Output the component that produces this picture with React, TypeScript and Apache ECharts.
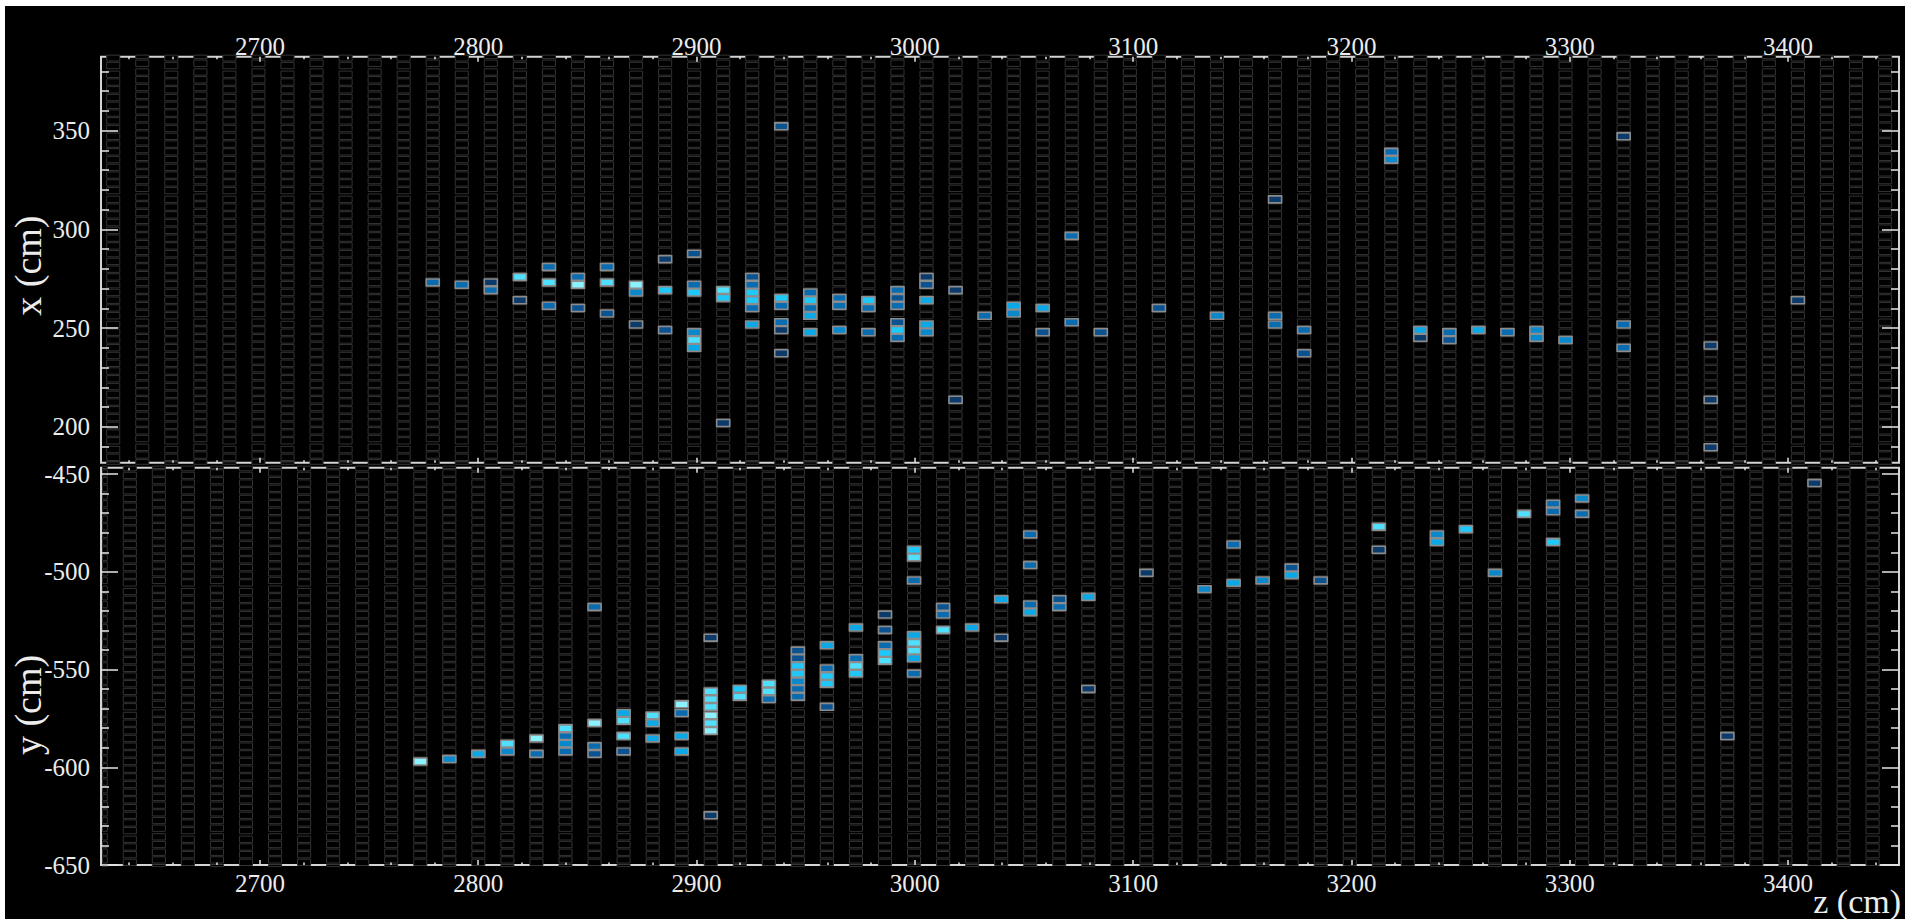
import React, { useEffect, useRef } from "react";
import * as echarts from "echarts";

// ---------- axis ranges (cm) ----------
const Z_RANGE = [2627.2, 3450.8];
const X_RANGE = [181.8, 387.5];
const Y_RANGE = [-650, -446.7];

// ---------- tick values ----------
const Z_MAJOR_TICKS = [2700, 2800, 2900, 3000, 3100, 3200, 3300, 3400];
const Z_MINOR_TICKS = [
  2640, 2660, 2680, 2720, 2740, 2760, 2780, 2820, 2840, 2860, 2880, 2920, 2940, 2960, 2980,
  3020, 3040, 3060, 3080, 3120, 3140, 3160, 3180, 3220, 3240, 3260, 3280, 3320, 3340, 3360,
  3380, 3420, 3440,
];
const X_MAJOR_TICKS = [200, 250, 300, 350];
const X_MINOR_TICKS = [190, 210, 220, 230, 240, 260, 270, 280, 290, 310, 320, 330, 340, 360, 370, 380];
const Y_MAJOR_TICKS = [-650, -600, -550, -500, -450];
const Y_MINOR_TICKS = [-640, -630, -620, -610, -590, -580, -570, -560, -540, -530, -520, -510, -490, -480, -470, -460];

// ---------- detector geometry (cm) ----------
const PLANE_PITCH = 13.305;
const X_PLANE_Z0 = 2632.8; // first x-view plane
const Y_PLANE_Z0 = 2640.4; // first y-view plane
const X_PLANE_RANGE = [0, 61];
const Y_PLANE_RANGE = [-1, 60];
const CELL_PITCH = 3.93;
const CELL_DEPTH = 6.0;
const CELLS_PER_EXTRUSION = 16;
const EXTRUSION_GAP = 0.5;
const X_EXTRUSION_EDGE = [254.05, 255.2]; // even / odd planes
const Y_EXTRUSION_EDGE = [-571.25, -570.0];

// ---------- hits: [z (cm), transverse (cm), charge level 1..8] ----------
const X_VIEW_HITS = [
  [2779.2, 273.2, 3],
  [2792.5, 272.0, 3],
  [2805.8, 273.2, 1], [2805.8, 269.3, 3],
  [2819.1, 276.2, 7], [2819.1, 264.2, 1],
  [2832.4, 281.4, 3], [2832.4, 273.2, 7], [2832.4, 261.5, 3],
  [2845.7, 276.2, 3], [2845.7, 272.0, 8], [2845.7, 260.3, 2],
  [2859.0, 281.4, 3], [2859.0, 273.2, 7], [2859.0, 257.5, 2],
  [2872.3, 272.0, 8], [2872.3, 267.9, 4], [2872.3, 251.9, 1],
  [2885.6, 285.2, 1], [2885.6, 269.3, 6], [2885.6, 249.2, 2],
  [2898.9, 287.8, 2], [2898.9, 272.0, 3], [2898.9, 267.9, 6], [2898.9, 247.7, 4], [2898.9, 243.9, 7], [2898.9, 240.2, 5],
  [2912.2, 269.3, 7], [2912.2, 265.6, 6], [2912.2, 202.0, 1],
  [2925.5, 276.2, 2], [2925.5, 272.0, 3], [2925.5, 267.9, 6], [2925.5, 264.2, 6], [2925.5, 260.3, 3], [2925.5, 251.9, 5],
  [2938.8, 353.4, 2], [2938.8, 265.6, 6], [2938.8, 261.5, 3], [2938.8, 253.0, 3], [2938.8, 249.2, 1], [2938.8, 237.2, 1],
  [2952.2, 267.9, 3], [2952.2, 264.2, 6], [2952.2, 260.3, 3], [2952.2, 256.3, 5], [2952.2, 247.7, 5],
  [2965.5, 265.6, 3], [2965.5, 261.5, 3], [2965.5, 249.2, 4],
  [2978.7, 264.2, 6], [2978.7, 260.3, 3], [2978.7, 247.7, 3],
  [2992.0, 269.3, 3], [2992.0, 265.6, 2], [2992.0, 261.5, 3], [2992.0, 253.0, 2], [2992.0, 249.2, 6], [2992.0, 245.3, 3],
  [3005.3, 276.2, 1], [3005.3, 272.0, 2], [3005.3, 264.2, 5], [3005.3, 251.9, 5], [3005.3, 247.7, 4],
  [3018.6, 269.3, 1], [3018.6, 213.5, 1],
  [3032.0, 256.3, 3],
  [3045.3, 261.5, 5], [3045.3, 257.5, 4],
  [3058.6, 260.3, 5], [3058.6, 247.7, 2],
  [3071.9, 297.1, 3], [3071.9, 253.0, 3],
  [3085.2, 247.7, 2],
  [3111.8, 260.3, 2],
  [3138.4, 256.3, 4],
  [3165.0, 315.2, 1], [3165.0, 256.3, 3], [3165.0, 251.9, 3],
  [3178.3, 249.2, 3], [3178.3, 237.2, 2],
  [3218.2, 339.9, 3], [3218.2, 335.8, 4],
  [3231.5, 249.2, 5], [3231.5, 245.3, 1],
  [3244.8, 247.7, 3], [3244.8, 243.9, 2],
  [3258.1, 249.2, 5],
  [3271.4, 247.7, 3],
  [3284.7, 249.2, 4], [3284.7, 245.3, 4],
  [3298.0, 243.9, 4],
  [3324.7, 347.3, 1], [3324.7, 251.9, 3], [3324.7, 240.2, 3],
  [3364.6, 240.9, 1], [3364.6, 213.5, 1], [3364.6, 189.3, 1],
  [3404.5, 264.2, 1],
];

const Y_VIEW_HITS = [
  [2773.5, -597.7, 8],
  [2786.8, -596.3, 4],
  [2800.1, -593.6, 5],
  [2813.4, -588.3, 7], [2813.4, -592.3, 4],
  [2826.7, -585.6, 8], [2826.7, -593.2, 3],
  [2840.0, -580.3, 7], [2840.0, -584.2, 3], [2840.0, -588.3, 4], [2840.0, -592.3, 3],
  [2853.3, -518.1, 3], [2853.3, -577.6, 8], [2853.3, -589.5, 3], [2853.3, -593.2, 2],
  [2866.6, -572.4, 5], [2866.6, -576.5, 7], [2866.6, -584.2, 7], [2866.6, -592.3, 2],
  [2879.9, -573.7, 7], [2879.9, -577.6, 5], [2879.9, -585.6, 5],
  [2893.1, -567.8, 8], [2893.1, -572.4, 3], [2893.1, -584.2, 5], [2893.1, -592.3, 5],
  [2906.5, -533.6, 1], [2906.5, -561.4, 7], [2906.5, -565.1, 7], [2906.5, -569.1, 7], [2906.5, -573.7, 8], [2906.5, -577.6, 7], [2906.5, -581.5, 8], [2906.5, -625.0, 1],
  [2919.8, -559.9, 6], [2919.8, -563.7, 7],
  [2933.1, -557.2, 7], [2933.1, -561.4, 7], [2933.1, -565.1, 3],
  [2946.4, -540.3, 2], [2946.4, -544.3, 2], [2946.4, -547.9, 6], [2946.4, -552.2, 6], [2946.4, -555.8, 4], [2946.4, -559.9, 3], [2946.4, -563.7, 3],
  [2959.7, -537.1, 5], [2959.7, -549.4, 3], [2959.7, -553.2, 6], [2959.7, -557.2, 6], [2959.7, -569.1, 2],
  [2973.0, -528.1, 5], [2973.0, -544.0, 3], [2973.0, -547.9, 7], [2973.0, -552.2, 6],
  [2986.3, -522.1, 1], [2986.3, -529.8, 2], [2986.3, -538.0, 3], [2986.3, -541.7, 6], [2986.3, -545.7, 7],
  [2999.6, -488.9, 6], [2999.6, -492.8, 7], [2999.6, -504.8, 3], [2999.6, -532.7, 5], [2999.6, -536.6, 7], [2999.6, -540.3, 7], [2999.6, -544.3, 5], [2999.6, -552.3, 3],
  [3012.9, -518.2, 2], [3012.9, -522.1, 3], [3012.9, -529.7, 7],
  [3026.2, -528.6, 5],
  [3039.6, -514.1, 5], [3039.6, -533.9, 1],
  [3052.9, -480.6, 3], [3052.9, -496.4, 3], [3052.9, -516.7, 3], [3052.9, -520.8, 5],
  [3066.2, -514.1, 2], [3066.2, -517.9, 3],
  [3079.5, -513.1, 5], [3079.5, -559.9, 1],
  [3106.1, -500.3, 1],
  [3132.7, -508.5, 4],
  [3146.0, -485.8, 3], [3146.0, -505.4, 5],
  [3159.3, -504.0, 4],
  [3172.6, -497.6, 2], [3172.6, -501.8, 5],
  [3185.9, -504.0, 2],
  [3212.5, -476.6, 7], [3212.5, -488.9, 1],
  [3239.1, -480.7, 4], [3239.1, -484.7, 5],
  [3252.4, -478.2, 6],
  [3265.7, -500.2, 4],
  [3279.0, -469.8, 7],
  [3292.3, -465.0, 3], [3292.3, -469.3, 3], [3292.3, -484.7, 6],
  [3305.7, -462.2, 4], [3305.7, -470.2, 3],
  [3372.2, -584.0, 1],
  [3412.1, -454.1, 1],
];

const CHARGE_COLORS = ["#0b3a6b", "#0b5290", "#0a6cb0", "#0a88cc", "#0aa8e6", "#1ec8fa", "#4fe0ff", "#8af2ff"];

// ---------- styling ----------
const FONT = "'Liberation Serif', 'Times New Roman', 'DejaVu Serif', serif";
const TEXT_COLOR = "#ececec";
const TICK_COLOR = "#e6e6e6";
const FRAME_COLOR = "#d4d4d4";
const CELL_STROKE = "#333333";
const HIT_STROKE = "#8c8c8c";

const PERIOD = CELLS_PER_EXTRUSION * CELL_PITCH + EXTRUSION_GAP;
const mod2 = (k: number) => ((k % 2) + 2) % 2;

function buildCells(z0: number, kRange: number[], edges: number[], vRange: number[]) {
  const out: number[][] = [];
  for (let k = kRange[0]; k <= kRange[1]; k++) {
    const z = z0 + k * PLANE_PITCH;
    const edge = edges[mod2(k)];
    const m0 = Math.floor((vRange[0] - edge) / PERIOD) - 1;
    const m1 = Math.ceil((vRange[1] - edge) / PERIOD) + 1;
    for (let m = m0; m <= m1; m++) {
      const base = edge + m * PERIOD + EXTRUSION_GAP / 2;
      for (let i = 0; i < CELLS_PER_EXTRUSION; i++) {
        const c = base + CELL_PITCH * (i + 0.5);
        if (c + CELL_PITCH / 2 < vRange[0] - 2 || c - CELL_PITCH / 2 > vRange[1] + 2) continue;
        out.push([z, c, 0]);
      }
    }
  }
  return out;
}

function snapHits(hits: number[][], z0: number, edges: number[]) {
  return hits.map(([z, v, q]) => {
    const k = Math.round((z - z0) / PLANE_PITCH);
    const edge = edges[mod2(k)];
    const m = Math.floor((v - edge) / PERIOD);
    const base = edge + m * PERIOD + EXTRUSION_GAP / 2;
    let i = Math.floor((v - base) / CELL_PITCH);
    i = Math.max(0, Math.min(CELLS_PER_EXTRUSION - 1, i));
    return [z0 + k * PLANE_PITCH, base + CELL_PITCH * (i + 0.5), q];
  });
}

function makeRenderItem(isHit: boolean) {
  return (params: any, api: any) => {
    const c = api.coord([api.value(0), api.value(1)]);
    const s = api.size([CELL_DEPTH, CELL_PITCH]);
    const cs = params.coordSys;
    const inset = isHit ? 0.4 : 0.7;
    let x0 = c[0] - s[0] / 2;
    let x1 = c[0] + s[0] / 2;
    let y0 = c[1] - s[1] / 2 + inset;
    let y1 = c[1] + s[1] / 2 - inset;
    x0 = Math.max(x0, cs.x + 1.5);
    x1 = Math.min(x1, cs.x + cs.width - 1.5);
    y0 = Math.max(y0, cs.y - 1.6);
    y1 = Math.min(y1, cs.y + cs.height + 1.6);
    if (x1 <= x0 || y1 <= y0) return null;
    const level = api.value(2);
    return {
      type: "rect",
      shape: { x: x0, y: y0, width: x1 - x0, height: y1 - y0 },
      style: isHit
        ? { fill: CHARGE_COLORS[level - 1], stroke: HIT_STROKE, lineWidth: 1.6 }
        : { fill: "#000", stroke: CELL_STROKE, lineWidth: 1 },
    };
  };
}

function zAxis(grid: number, position: string, ticks: number[], len: number, labels: boolean, margin = 0) {
  return {
    type: "value",
    gridIndex: grid,
    position,
    min: Z_RANGE[0],
    max: Z_RANGE[1],
    z: 10,
    axisLine: { show: false, onZero: false },
    splitLine: { show: false },
    axisTick: { show: true, inside: true, length: len, customValues: ticks, lineStyle: { color: TICK_COLOR, width: 1.5 } },
    axisLabel: labels
      ? {
          show: true,
          customValues: ticks,
          margin,
          verticalAlign: "middle",
          color: TEXT_COLOR,
          fontFamily: FONT,
          fontSize: 25,
          formatter: (v: number) => String(v),
        }
      : { show: false, customValues: ticks },
  };
}

function vAxis(grid: number, position: string, range: number[], ticks: number[], len: number, labels: boolean) {
  return {
    type: "value",
    gridIndex: grid,
    position,
    min: range[0],
    max: range[1],
    z: 10,
    axisLine: { show: false, onZero: false },
    splitLine: { show: false },
    axisTick: { show: true, inside: true, length: len, customValues: ticks, lineStyle: { color: TICK_COLOR, width: 1.5 } },
    axisLabel: labels
      ? {
          show: true,
          customValues: ticks,
          margin: 11,
          color: TEXT_COLOR,
          fontFamily: FONT,
          fontSize: 25,
          formatter: (v: number) => String(v),
        }
      : { show: false, customValues: ticks },
  };
}

export default function App() {
  const ref = useRef<HTMLDivElement>(null);
  useEffect(() => {
    if (!ref.current) return;
    const chart = echarts.init(ref.current, null, { renderer: "svg" });

    const topCells = buildCells(X_PLANE_Z0, X_PLANE_RANGE, X_EXTRUSION_EDGE, X_RANGE);
    const botCells = buildCells(Y_PLANE_Z0, Y_PLANE_RANGE, Y_EXTRUSION_EDGE, Y_RANGE);
    const topHits = snapHits(X_VIEW_HITS, X_PLANE_Z0, X_EXTRUSION_EDGE);
    const botHits = snapHits(Y_VIEW_HITS, Y_PLANE_Z0, Y_EXTRUSION_EDGE);

    const gridBase = { show: true, borderColor: FRAME_COLOR, borderWidth: 2, backgroundColor: "transparent", left: 96, right: 6 };
    const sideTitle = { fill: TEXT_COLOR, fontFamily: FONT, fontSize: 38 };
    const bottomTitle = { fill: TEXT_COLOR, fontFamily: FONT, fontSize: 34 };

    const option: any = {
      animation: false,
      backgroundColor: "#000",
      grid: [
        { ...gridBase, top: 50.7, height: 406 },
        { ...gridBase, top: 461.7, height: 397.3 },
      ],
      xAxis: [
        zAxis(0, "top", Z_MAJOR_TICKS, 5, true, 10),
        zAxis(0, "top", Z_MINOR_TICKS, 2.5, false),
        zAxis(0, "bottom", Z_MAJOR_TICKS, 5, false),
        zAxis(0, "bottom", Z_MINOR_TICKS, 2.5, false),
        zAxis(1, "top", Z_MAJOR_TICKS, 5, false),
        zAxis(1, "top", Z_MINOR_TICKS, 2.5, false),
        zAxis(1, "bottom", Z_MAJOR_TICKS, 5, true, 18),
        zAxis(1, "bottom", Z_MINOR_TICKS, 2.5, false),
      ],
      yAxis: [
        vAxis(0, "left", X_RANGE, X_MAJOR_TICKS, 17, true),
        vAxis(0, "left", X_RANGE, X_MINOR_TICKS, 8, false),
        vAxis(0, "right", X_RANGE, X_MAJOR_TICKS, 17, false),
        vAxis(0, "right", X_RANGE, X_MINOR_TICKS, 8, false),
        vAxis(1, "left", Y_RANGE, Y_MAJOR_TICKS, 17, true),
        vAxis(1, "left", Y_RANGE, Y_MINOR_TICKS, 8, false),
        vAxis(1, "right", Y_RANGE, Y_MAJOR_TICKS, 17, false),
        vAxis(1, "right", Y_RANGE, Y_MINOR_TICKS, 8, false),
      ],
      series: [
        {
          type: "custom", name: "x-view cells", xAxisIndex: 0, yAxisIndex: 0, data: topCells,
          encode: { x: 0, y: 1 }, renderItem: makeRenderItem(false), clip: false, silent: true, z: 2, progressive: 0,
        },
        {
          type: "custom", name: "x-view hits", xAxisIndex: 0, yAxisIndex: 0, data: topHits,
          encode: { x: 0, y: 1 }, renderItem: makeRenderItem(true), clip: false, silent: true, z: 3, progressive: 0,
        },
        {
          type: "custom", name: "y-view cells", xAxisIndex: 4, yAxisIndex: 4, data: botCells,
          encode: { x: 0, y: 1 }, renderItem: makeRenderItem(false), clip: false, silent: true, z: 2, progressive: 0,
        },
        {
          type: "custom", name: "y-view hits", xAxisIndex: 4, yAxisIndex: 4, data: botHits,
          encode: { x: 0, y: 1 }, renderItem: makeRenderItem(true), clip: false, silent: true, z: 3, progressive: 0,
        },
      ],
      graphic: [
        {
          type: "text", x: 23, y: 259.6, rotation: Math.PI / 2, z: 20,
          style: { ...sideTitle, text: "x (cm)", align: "center", verticalAlign: "middle" },
        },
        {
          type: "text", x: 23, y: 699, rotation: Math.PI / 2, z: 20,
          style: { ...sideTitle, text: "y (cm)", align: "center", verticalAlign: "middle" },
        },
        {
          type: "text", x: 1896, y: 895, z: 20,
          style: { ...bottomTitle, text: "z (cm)", align: "right", verticalAlign: "middle" },
        },
      ],
    };
    chart.setOption(option);
    return () => chart.dispose();
  }, []);
  return (
    <div
      ref={ref}
      style={{ position: "absolute", left: 5, top: 6, width: 1900, height: 913, background: "#000" }}
    />
  );
}
